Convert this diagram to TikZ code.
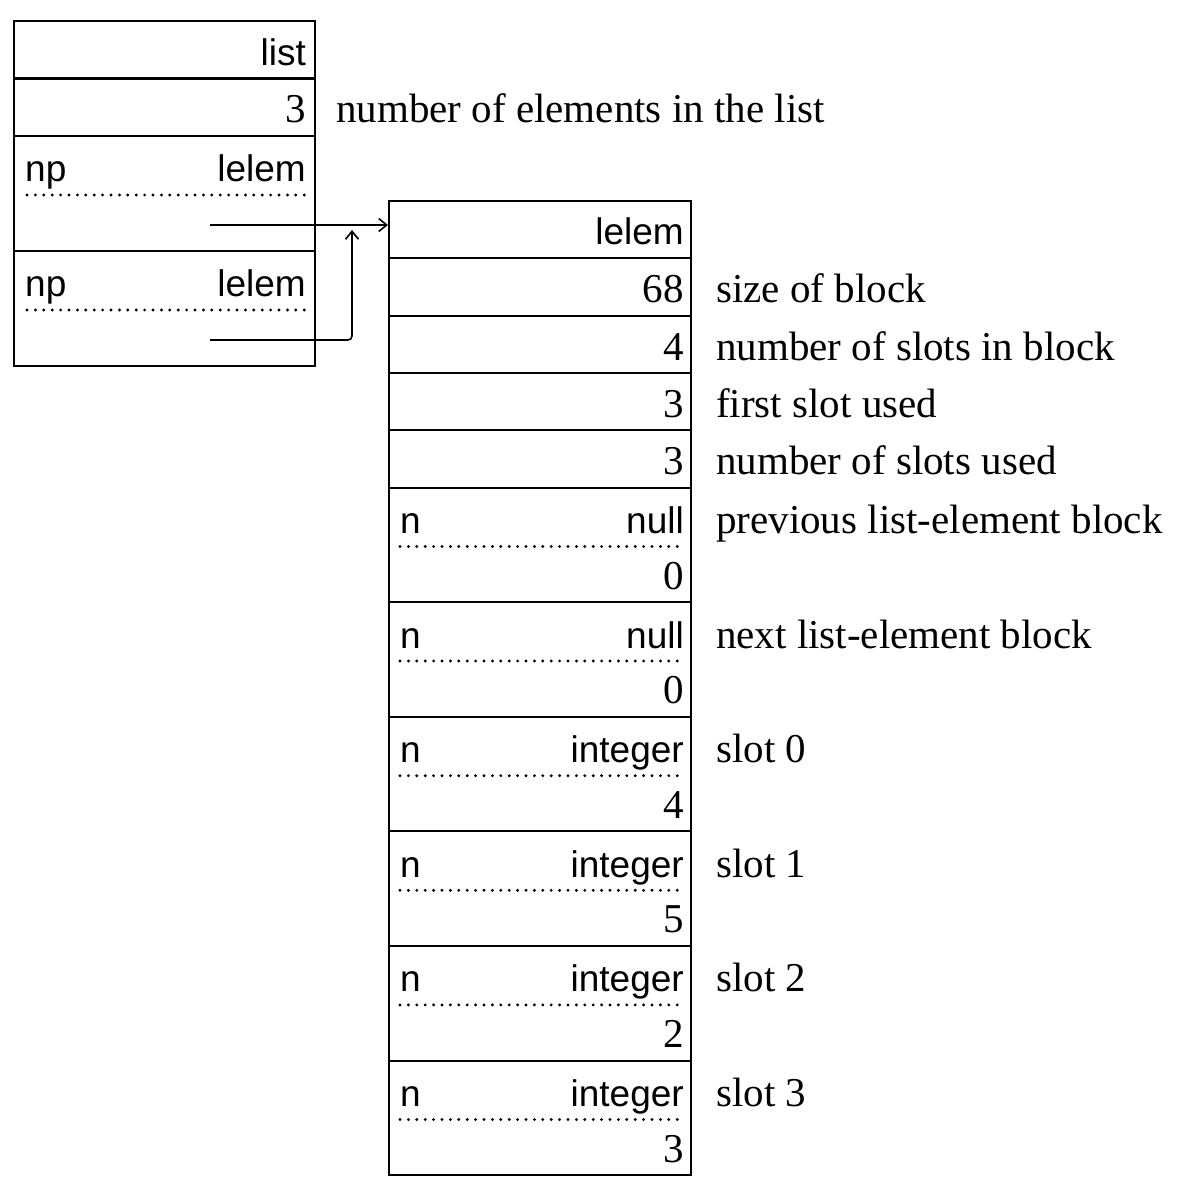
\documentclass[tikz,border=0pt]{standalone}
\usepackage{fontspec}
\setmainfont{Liberation Serif}
\newfontfamily\hvfont{Liberation Sans}
\usetikzlibrary{arrows.meta}
\tikzset{
  cellbox/.style={draw, line width=2.1pt, inner sep=0pt, anchor=north west},
  sf/.style={font=\hvfont\fontsize{37}{40}\selectfont, inner sep=0pt},
  sfr/.style={sf, anchor=base east},
  sfl/.style={sf, anchor=base west},
  numr/.style={font=\fontsize{41}{44}\selectfont, inner sep=0pt, anchor=base east},
  note/.style={font=\fontsize{41}{44}\selectfont, inner sep=0pt, anchor=base west},
  dotline/.style={line width=3.2pt, line cap=round, dash pattern=on 0pt off 8.4pt},
  ptr/.style={line width=1.6pt, -{Straight Barb[length=8pt,width=13pt,line width=1.6pt]}}
}
\begin{document}
\begin{tikzpicture}[x=1pt,y=-1pt]
\useasboundingbox[fill=white] (0,0) rectangle (1192,1177);

% ---------- left box (list) ----------
\node[cellbox, minimum width=301pt, minimum height=57.5pt] (L1) at (13,20) {};
\node[cellbox, minimum width=301pt, minimum height=57.5pt] (L2) at (13,77.5) {};
\node[cellbox, minimum width=301pt, minimum height=115pt] (L3) at (13,135) {};
\node[cellbox, minimum width=301pt, minimum height=115pt] (L4) at (13,250) {};

\node[sfr] (L1a) at (306,65.5) {list};
\node[numr] (L2a) at (306,123) {3};
\node[note] (L2n) at (336,123) {number of elements in the list};
\node[sfl] (L3a) at (25,182) {np};
\node[sfr] (L3b) at (306,182) {lelem};
\draw[dotline] (27,195) -- (306,195);
\node[sfl] (L4a) at (25,297) {np};
\node[sfr] (L4b) at (306,297) {lelem};
\draw[dotline] (27,310) -- (306,310);

% ---------- right box (list-element block) ----------
\node[cellbox, minimum width=302pt, minimum height=57.3pt] (R0) at (388,200) {};
\node[cellbox, minimum width=302pt, minimum height=57.3pt] (R1) at (388,257.3) {};
\node[cellbox, minimum width=302pt, minimum height=57.3pt] (R2) at (388,314.6) {};
\node[cellbox, minimum width=302pt, minimum height=57.3pt] (R3) at (388,371.9) {};
\node[cellbox, minimum width=302pt, minimum height=57.3pt] (R4) at (388,429.2) {};
\node[cellbox, minimum width=302pt, minimum height=114.6pt] (D0) at (388,486.5) {};
\node[cellbox, minimum width=302pt, minimum height=114.6pt] (D1) at (388,601.1) {};
\node[cellbox, minimum width=302pt, minimum height=114.6pt] (D2) at (388,715.7) {};
\node[cellbox, minimum width=302pt, minimum height=114.6pt] (D3) at (388,830.3) {};
\node[cellbox, minimum width=302pt, minimum height=114.6pt] (D4) at (388,944.9) {};
\node[cellbox, minimum width=302pt, minimum height=114.6pt] (D5) at (388,1059.5) {};

\node[sfr] (R0a) at (684,245) {lelem};
\node[numr] (R1a) at (684,302.5) {68};
\node[note] (R1n) at (716,302.5) {size of block};
\node[numr] (R2a) at (684,360) {4};
\node[note] (R2n) at (716,360) {number of slots in block};
\node[numr] (R3a) at (684,417) {3};
\node[note] (R3n) at (716,417) {first slot used};
\node[numr] (R4a) at (684,474.5) {3};
\node[note] (R4n) at (716,474.5) {number of slots used};

% double rows
\node[sfl] (D0a) at (400,533.5) {n};
\node[sfr] (D0b) at (684,533.5) {null};
\draw[dotline] (400,546.5) -- (682,546.5);
\node[numr] (D0c) at (684,589) {0};
\node[note] (D0n) at (716,533.5) {previous list-element block};

\node[sfl] (D1a) at (400,648) {n};
\node[sfr] (D1b) at (684,648) {null};
\draw[dotline] (400,661) -- (682,661);
\node[numr] (D1c) at (684,703.7) {0};
\node[note] (D1n) at (716,648) {next list-element block};

\node[sfl] (D2a) at (400,762.7) {n};
\node[sfr] (D2b) at (684,762.7) {integer};
\draw[dotline] (400,775.7) -- (682,775.7);
\node[numr] (D2c) at (684,818.3) {4};
\node[note] (D2n) at (716,762.7) {slot 0};

\node[sfl] (D3a) at (400,877.3) {n};
\node[sfr] (D3b) at (684,877.3) {integer};
\draw[dotline] (400,890.3) -- (682,890.3);
\node[numr] (D3c) at (684,932.9) {5};
\node[note] (D3n) at (716,877.3) {slot 1};

\node[sfl] (D4a) at (400,991.9) {n};
\node[sfr] (D4b) at (684,991.9) {integer};
\draw[dotline] (400,1004.9) -- (682,1004.9);
\node[numr] (D4c) at (684,1047.5) {2};
\node[note] (D4n) at (716,991.9) {slot 2};

\node[sfl] (D5a) at (400,1106.5) {n};
\node[sfr] (D5b) at (684,1106.5) {integer};
\draw[dotline] (400,1119.5) -- (682,1119.5);
\node[numr] (D5c) at (684,1162.1) {3};
\node[note] (D5n) at (716,1106.5) {slot 3};

% ---------- pointers ----------
\coordinate (p1) at (210,225);
\coordinate (p2) at (210,340);
\coordinate (p2end) at (352,230);
\draw[ptr] (p1) -- (p1 -| R0.west);
\draw[ptr, rounded corners=4pt] (p2) -| (p2end);
\end{tikzpicture}
\end{document}
